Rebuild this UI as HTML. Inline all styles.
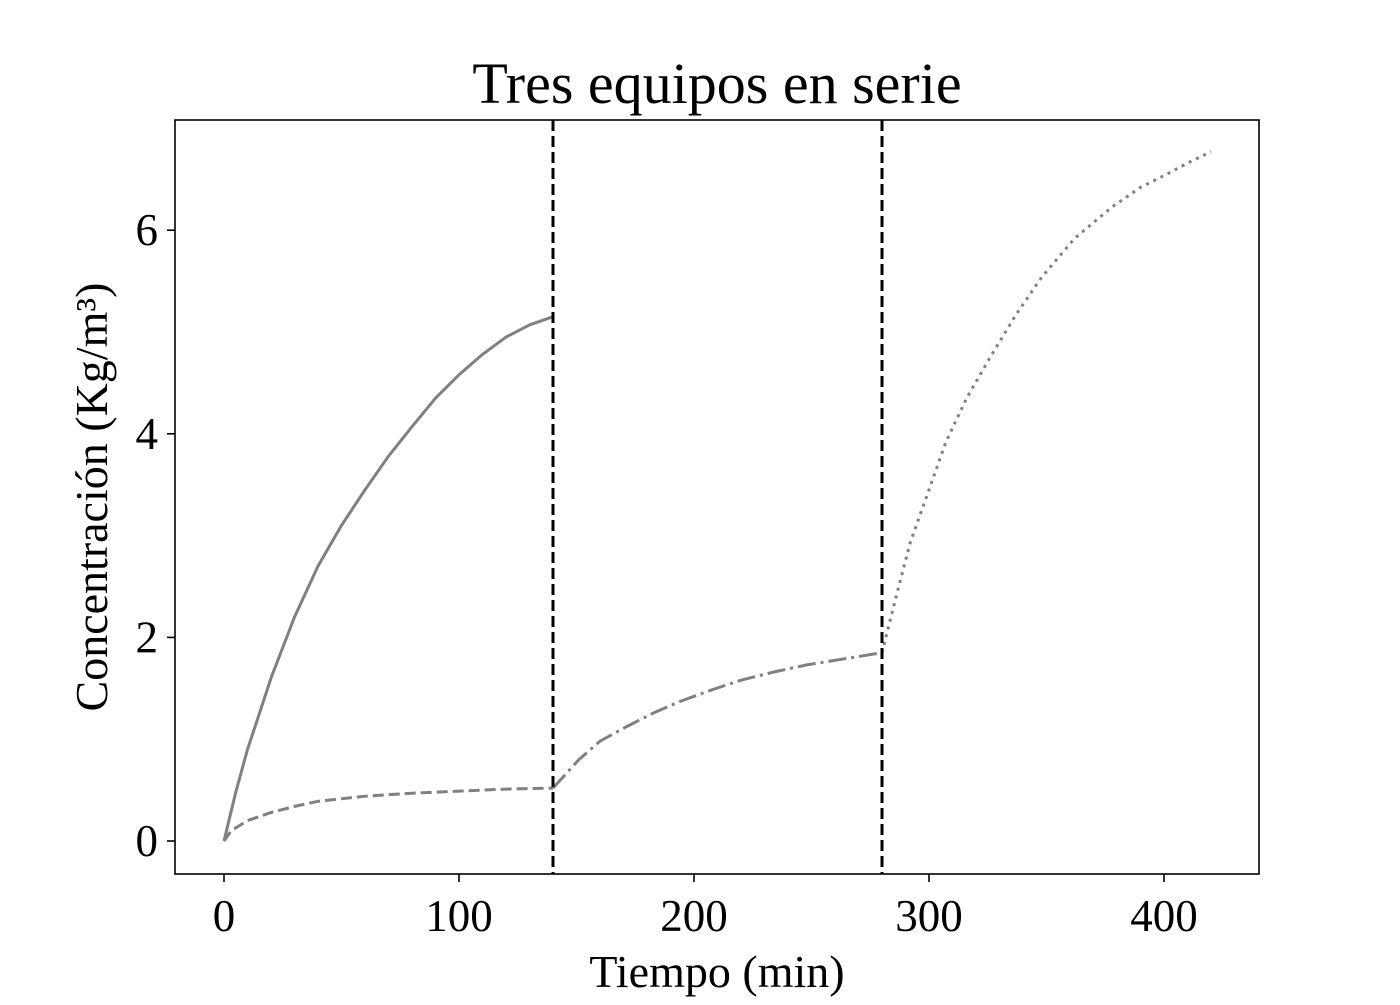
<!DOCTYPE html>
<html><head><meta charset="utf-8"><style>
body{margin:0;background:#fff}
svg text{font-family:"Liberation Serif",serif;fill:#000}
</style></head><body>
<svg id="chart" width="1400" height="1000">
<text x="717" y="103" font-size="58" text-anchor="middle">Tres equipos en serie</text>
<g id="plot"></g>
<rect x="175" y="120" width="1084" height="754" fill="none" stroke="#000" stroke-width="1.6"/>
<text x="717" y="987" font-size="46" text-anchor="middle">Tiempo (min)</text>
<text transform="translate(107,497) rotate(-90)" font-size="46" text-anchor="middle">Concentración (Kg/m³)</text>
</svg>
<script>
const xTicks=[0,100,200,300,400];
const yTicks=[0,2,4,6];
const vLines=[140,280];
const s1t=[0,5,10,15,20,30,40,50,60,70,80,90,100,110,120,130,140];
const s1v=[0,0.48,0.9,1.25,1.6,2.2,2.7,3.1,3.45,3.78,4.07,4.35,4.58,4.78,4.95,5.07,5.15];
const s2t=[0,3,10,20,30,40,60,80,100,120,140];
const s2v=[0,0.1,0.2,0.28,0.34,0.39,0.44,0.47,0.49,0.51,0.52];
const s3t=[140,151,160,171,183,194,207,220,234,248,264,280];
const s3v=[0.52,0.8,0.98,1.12,1.26,1.37,1.48,1.58,1.66,1.73,1.79,1.85];
const s4t=[280,286,292,300,307,316,326,337,348,362,378,390,402,411,420];
const s4v=[1.85,2.4,2.93,3.45,3.91,4.35,4.75,5.17,5.54,5.92,6.23,6.42,6.56,6.67,6.77];
const X=t=>224+t*2.35, Y=v=>841-v*101.8;
const ns="http://www.w3.org/2000/svg", g=document.getElementById('plot');
function mk(tag,a){const e=document.createElementNS(ns,tag);for(const k in a)e.setAttribute(k,a[k]);g.appendChild(e);return e;}
xTicks.forEach(t=>{
 const l=mk('line',{x1:X(t),x2:X(t),y1:874,y2:882,stroke:'#000','stroke-width':1.6});
 
 
 const tx=mk('text',{x:X(t),y:931,'font-size':45,'text-anchor':'middle'});tx.textContent=t;
 
 
});
yTicks.forEach(v=>{
 const l=mk('line',{x1:167,x2:175,y1:Y(v),y2:Y(v),stroke:'#000','stroke-width':1.6});
 
 
 const tx=mk('text',{x:158,y:Y(v)+15,'font-size':45,'text-anchor':'end'});tx.textContent=v;
 
 
});
function series(ts,vs,dash,name){
 const d=ts.map((t,i)=>(i?'L':'M')+X(t).toFixed(1)+','+Y(vs[i]).toFixed(1)).join(' ');
 const p=mk('path',{d:d,fill:'none',stroke:'#808080','stroke-width':3,'stroke-dasharray':dash,'stroke-linejoin':'round'});
 
 
}
series(s1t,s1v,'none','series-solid');
series(s2t,s2v,'11 5','series-dashed');
series(s3t,s3v,'18 5 3 5','series-dashdot');
series(s4t,s4v,'3 5','series-dotted');
vLines.forEach(t=>{
 const l=mk('line',{x1:X(t),x2:X(t),y1:120,y2:874,stroke:'#000','stroke-width':3,'stroke-dasharray':'11 5'});
 
 
});
</script>
</body></html>
